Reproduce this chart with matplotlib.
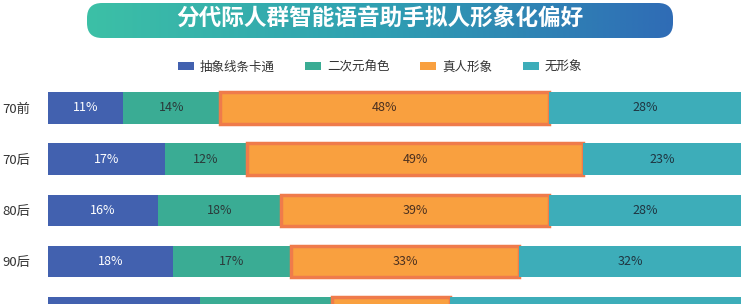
import numpy as np
import matplotlib.pyplot as plt
from matplotlib.patches import FancyBboxPatch, Patch
from matplotlib.colors import LinearSegmentedColormap

plt.rcParams['font.family'] = ['Noto Sans CJK SC', 'DejaVu Sans']
plt.rcParams['savefig.bbox'] = 'standard'

title = '分代际人群智能语音助手拟人形象化偏好'
groups = ['70前', '70后', '80后', '90后', '00后']
series = ['抽象线条卡通', '二次元角色', '真人形象', '无形象']
abstract = [11, 17, 16, 18, 22]
anime = [14, 12, 18, 17, 19]
real_person = [48, 49, 39, 33, 17]
no_form = [28, 23, 28, 32, 42]

colors = ['#4261AF', '#3AAC94', '#F9A03F', '#3DADB9']
text_colors = ['white', '#2b3a3a', '#4a3020', '#1f3440']

W, H = 744, 304
fig = plt.figure(figsize=(W / 100, H / 100), dpi=100)

# title banner with gradient
tx0, tx1, ty0, ty1 = 87, 673, 3, 38
tax = fig.add_axes([tx0 / W, 1 - ty1 / H, (tx1 - tx0) / W, (ty1 - ty0) / H])
tw, th = tx1 - tx0, ty1 - ty0
grad = np.linspace(0, 1, 256).reshape(1, -1)
cmap = LinearSegmentedColormap.from_list('g', ['#3CC0A6', '#2F9FB2', '#2F6CB6'])
im = tax.imshow(grad, extent=[0, tw, 0, th], aspect='auto', cmap=cmap)
box = FancyBboxPatch((0, 0), tw, th, boxstyle='round,pad=0,rounding_size=15',
                     transform=tax.transData, facecolor='none', edgecolor='none')
tax.add_patch(box)
im.set_clip_path(box)
tax.set_xlim(0, tw)
tax.set_ylim(0, th)
tax.axis('off')
tax.text(380 - tx0, th / 2 + 1, title, color='white', fontsize=16.3, fontweight='bold',
         ha='center', va='center')

# bars
bx0, bx1, by0 = 48, 741, 85
ylim_bottom = 3.84
ax = fig.add_axes([bx0 / W, 0, (bx1 - bx0) / W, (H - by0) / H])
data = np.array([abstract, anime, real_person, no_form], dtype=float)
totals = data.sum(axis=0)
ypos = np.arange(len(groups))
left = np.zeros(len(groups))
for i, name in enumerate(series):
    widths = data[i] / totals * 100
    if i == 2:
        ax.barh(ypos, widths, left=left, height=0.61, color=colors[i],
                edgecolor='#EF7B4B', linewidth=2.5, label=name)
    else:
        ax.barh(ypos, widths, left=left, height=0.61, color=colors[i], label=name)
    for y, l, w, v in zip(ypos, left, widths, data[i]):
        if y + 0.15 > ylim_bottom:
            continue  # row is cut off by the frame, label not visible
        ax.text(l + w / 2, y, f'{int(v)}%', ha='center', va='center',
                fontsize=9, color=text_colors[i], clip_on=True)
    left += widths

ax.set_yticks(ypos)
ax.set_yticklabels(groups, fontsize=9.5, color='#333333')
ax.set_xlim(0, 100)
ax.set_ylim(ylim_bottom, -0.45)  # after set_yticks, which would widen it
ax.tick_params(axis='y', length=0, pad=13)
ax.set_xticks([])
for s in ax.spines.values():
    s.set_visible(False)

handles = [Patch(facecolor=c) for c in colors]
fig.legend(handles, series, loc='center', bbox_to_anchor=(380 / W, 1 - 67 / H),
           ncol=4, frameon=False, fontsize=9, handlelength=1.3, handleheight=0.55,
           columnspacing=2.4, handletextpad=0.5, labelcolor='#333333')

fig.savefig('out.png', dpi=100)
